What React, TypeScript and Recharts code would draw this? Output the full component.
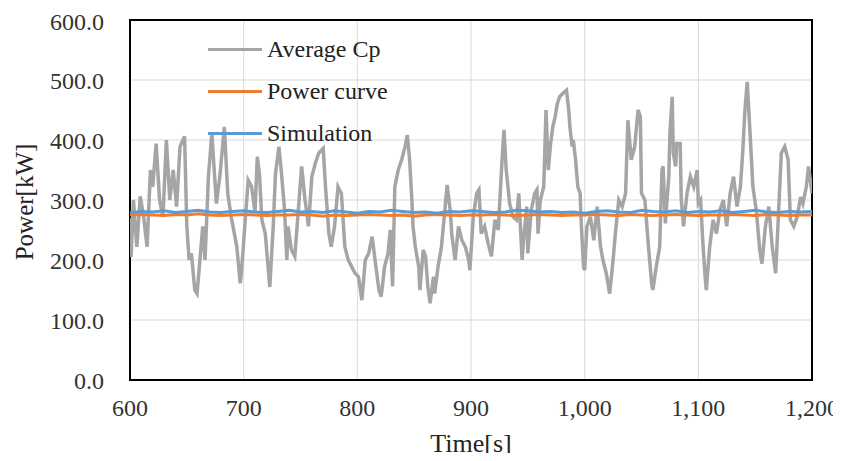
import {
  LineChart,
  Line,
  XAxis,
  YAxis,
  CartesianGrid,
  Legend,
  ReferenceArea,
} from "recharts";

// Average Cp (gray), time [s] / power [kW]
const cpTime = [
  600, 601, 603, 606, 609, 612, 615, 618, 620, 623, 626, 629, 632, 635, 638, 641, 644, 648, 650, 652,
  654, 657, 659, 662, 664, 666, 669, 672, 676, 679, 683, 686, 689, 694, 697, 698, 701, 704, 707, 710,
  712, 714, 716, 719, 723, 726, 728, 731, 733, 736, 738, 739, 742, 745, 747, 751, 754, 757, 760, 763,
  766, 770, 772, 775, 777, 780, 783, 786, 789, 792, 795, 798, 801, 804, 807, 810, 813, 816, 819, 821,
  824, 827, 829, 831, 833, 836, 839, 842, 844, 846, 848, 849, 851, 854, 855, 858, 860, 862, 864, 867,
  868, 871, 874, 877, 879, 882, 883, 886, 889, 892, 895, 898, 899, 902, 905, 907, 909, 912, 915, 918,
  921, 924, 927, 929, 931, 934, 937, 940, 942, 945, 946, 949, 950, 953, 956, 958, 959, 961, 964, 966,
  968, 970, 972, 974, 976, 978, 981, 984, 986, 987, 989, 990, 992, 993, 994, 996, 997, 999, 1000, 1002,
  1005, 1008, 1011, 1014, 1016, 1019, 1022, 1025, 1027, 1030, 1033, 1036, 1038, 1041, 1044, 1047, 1049, 1050, 1053, 1056,
  1059, 1060, 1063, 1066, 1068, 1069, 1071, 1074, 1075, 1077, 1078, 1080, 1081, 1084, 1085, 1087, 1090, 1093, 1096, 1099,
  1100, 1102, 1104, 1106, 1107, 1110, 1113, 1116, 1119, 1122, 1125, 1128, 1131, 1134, 1137, 1139, 1141, 1143, 1146, 1148,
  1151, 1154, 1156, 1159, 1162, 1165, 1168, 1170, 1173, 1176, 1179, 1181, 1184, 1187, 1190, 1192, 1195, 1197, 1200,
];
const cpPower = [
  270, 205, 300, 222, 306, 272, 222, 350, 322, 394, 300, 272, 400, 300, 350, 289, 389, 406, 256, 200,
  211, 150, 144, 211, 256, 200, 339, 411, 294, 339, 422, 311, 272, 222, 161, 178, 256, 333, 322, 280,
  372, 340, 267, 244, 155, 256, 344, 389, 350, 283, 200, 256, 217, 206, 256, 356, 300, 256, 339, 361,
  378, 386, 322, 244, 222, 256, 322, 311, 222, 200, 189, 178, 172, 133, 200, 211, 239, 194, 150, 139,
  189, 211, 250, 156, 322, 350, 367, 389, 408, 367, 300, 256, 222, 189, 150, 217, 206, 156, 128, 172,
  144, 189, 222, 283, 325, 278, 244, 200, 256, 233, 222, 200, 183, 272, 311, 317, 244, 256, 228, 206,
  267, 250, 356, 417, 350, 294, 272, 267, 311, 200, 228, 289, 211, 283, 311, 317, 244, 300, 322, 450,
  350, 394, 422, 439, 461, 472, 478, 483, 450, 422, 389, 400, 367, 344, 322, 311, 261, 189, 183, 256,
  272, 233, 289, 222, 200, 178, 144, 200, 244, 300, 289, 311, 433, 367, 389, 450, 439, 311, 300, 225,
  160, 150, 189, 222, 350, 356, 261, 339, 411, 472, 378, 356, 394, 394, 300, 256, 311, 339, 322, 350,
  294, 300, 228, 172, 150, 222, 267, 244, 283, 300, 256, 311, 339, 289, 322, 378, 450, 497, 394, 322,
  283, 217, 194, 256, 289, 222, 178, 256, 378, 389, 367, 267, 256, 272, 305, 294, 322, 356, 311,
];

// Power curve (orange) and Simulation (blue), every 10 s
const lineTime = [
  600, 610, 620, 630, 640, 650, 660, 670, 680, 690,
  700, 710, 720, 730, 740, 750, 760, 770, 780, 790,
  800, 810, 820, 830, 840, 850, 860, 870, 880, 890,
  900, 910, 920, 930, 940, 950, 960, 970, 980, 990,
  1000, 1010, 1020, 1030, 1040, 1050, 1060, 1070, 1080, 1090,
  1100, 1110, 1120, 1130, 1140, 1150, 1160, 1170, 1180, 1190,
  1200,
];
const powerCurve = [
  275, 276, 275, 274, 276, 275, 277, 275, 274, 275,
  276, 275, 274, 275, 275, 276, 275, 273, 275, 274,
  275, 276, 275, 274, 275, 273, 275, 276, 275, 274,
  275, 275, 276, 275, 274, 275, 276, 275, 274, 275,
  275, 276, 275, 274, 276, 275, 274, 275, 276, 275,
  274, 275, 275, 276, 275, 274, 276, 275, 274, 275,
  275,
];
const simulation = [
  279, 281, 280, 282, 279, 281, 283, 280, 279, 281,
  282, 280, 279, 281, 283, 280, 281, 279, 282, 280,
  278, 281, 280, 283, 281, 279, 280, 278, 281, 280,
  282, 281, 279, 280, 283, 282, 280, 281, 279, 280,
  278, 281, 282, 280, 279, 283, 281, 280, 282, 279,
  281, 280, 282, 279, 281, 283, 280, 279, 281, 280,
  281,
];

const xTicks = [600, 700, 800, 900, 1000, 1100, 1200];
const yTicks = [0, 100, 200, 300, 400, 500, 600];

const GRAY = "#a5a5a5";
const ORANGE = "#ed7d31";
const BLUE = "#5b9bd5";
const FONT = "'Liberation Serif', 'Times New Roman', serif";

const cpData = cpTime.map((t, i) => ({ t, v: cpPower[i] }));
const pcData = lineTime.map((t, i) => ({ t, v: powerCurve[i] }));
const simData = lineTime.map((t, i) => ({ t, v: simulation[i] }));

const legendItems = [
  { name: "Average Cp", color: GRAY },
  { name: "Power curve", color: ORANGE },
  { name: "Simulation", color: BLUE },
];

const LegendBox = () => (
  <div style={{ fontFamily: FONT, fontSize: 24, color: "#222" }}>
    {legendItems.map((it) => (
      <div
        key={it.name}
        style={{ height: 42, display: "flex", alignItems: "center" }}
      >
        <span
          style={{
            display: "inline-block",
            width: 54,
            height: 3,
            background: it.color,
            marginRight: 5,
          }}
        />
        <span>{it.name}</span>
      </div>
    ))}
  </div>
);

const App = () => {
  return (
    // negative margin keeps the page from growing a scrollbar
    <div style={{ marginBottom: -8 }}>
      <LineChart
        width={833}
        height={453}
        margin={{ top: 12, right: 29, left: 62, bottom: 11 }}
      >
        <CartesianGrid stroke="#d9d9d9" strokeWidth={1} />
        <XAxis
          type="number"
          dataKey="t"
          domain={[600, 1200]}
          ticks={xTicks}
          allowDataOverflow
          axisLine={false}
          tickLine={false}
          tickSize={0}
          tickMargin={19}
          height={70}
          tick={{ fontFamily: FONT, fontSize: 24, fill: "#333" }}
          tickFormatter={(v: number) => v.toLocaleString("en-US")}
          label={({ viewBox }: any) => (
            <text
              x={viewBox.x + viewBox.width / 2}
              y={viewBox.y + 72}
              textAnchor="middle"
              fontFamily={FONT}
              fontSize={26}
              fill="#222"
            >
              Time[s]
            </text>
          )}
        />
        <YAxis
          type="number"
          domain={[0, 600]}
          ticks={yTicks}
          width={60}
          axisLine={false}
          tickLine={false}
          tickSize={0}
          tickMargin={26}
          tick={{ fontFamily: FONT, fontSize: 24, fill: "#333" }}
          tickFormatter={(v: number) => v.toFixed(1)}
          label={({ viewBox }: any) => {
            const lx = viewBox.x - 46;
            const ly = viewBox.y + viewBox.height / 2 + 2;
            return (
              <text
                x={lx}
                y={ly}
                transform={`rotate(-90, ${lx}, ${ly})`}
                textAnchor="middle"
                dominantBaseline="central"
                fontFamily={FONT}
                fontSize={25}
                fill="#222"
              >
                Power[kW]
              </text>
            );
          }}
        />
        <Line
          data={cpData}
          dataKey="v"
          name="Average Cp"
          stroke={GRAY}
          strokeWidth={3.5}
          dot={false}
          type="linear"
          isAnimationActive={false}
        />
        <Line
          data={pcData}
          dataKey="v"
          name="Power curve"
          stroke={ORANGE}
          strokeWidth={3}
          dot={false}
          type="linear"
          isAnimationActive={false}
        />
        <Line
          data={simData}
          dataKey="v"
          name="Simulation"
          stroke={BLUE}
          strokeWidth={3}
          dot={false}
          type="linear"
          isAnimationActive={false}
        />
        <ReferenceArea
          x1={600}
          x2={1200}
          y1={0}
          y2={600}
          fill="none"
          stroke="#000"
          strokeWidth={2}
          ifOverflow="visible"
        />
        <Legend
          layout="vertical"
          align="center"
          verticalAlign="middle"
          content={() => <LegendBox />}
          wrapperStyle={{ position: "absolute", left: 200, top: 20, width: 220 }}
        />
      </LineChart>
    </div>
  );
};

export default App;
